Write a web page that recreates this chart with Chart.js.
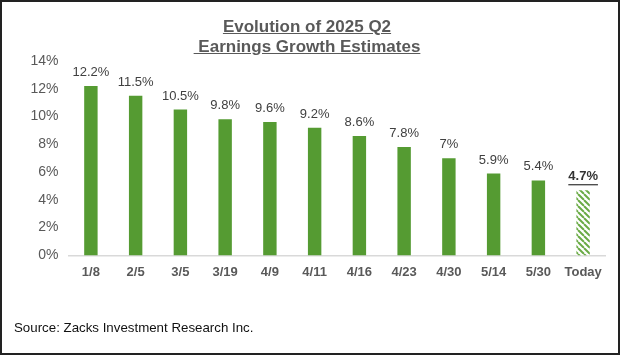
<!DOCTYPE html>
<html><head><meta charset="utf-8">
<script src="https://cdn.jsdelivr.net/npm/chart.js@4/dist/chart.umd.min.js"></script>
<style>
html,body{margin:0;padding:0;background:#fff;}
#wrap{position:relative;width:620px;height:355px;box-sizing:border-box;border:2px solid #222;font-family:"Liberation Sans",Arial,sans-serif;overflow:hidden;}
#title{position:absolute;left:0;top:15px;width:610px;text-align:center;font-weight:bold;font-size:17px;line-height:20px;color:#595959;text-decoration:underline;}
#src{position:absolute;left:12px;top:318px;font-size:13.3px;color:#111;}
canvas{position:absolute;left:0;top:0;}
</style></head>
<body><div id="wrap">
<canvas id="c" width="616" height="351"></canvas>
<div id="title">Evolution of 2025 Q2<br>&nbsp;Earnings Growth Estimates</div>
<div id="src">Source: Zacks Investment Research Inc.</div>
</div>
<script>
const categories = ["1/8","2/5","3/5","3/19","4/9","4/11","4/16","4/23","4/30","5/14","5/30","Today"];
const values = [12.2,11.5,10.5,9.8,9.6,9.2,8.6,7.8,7.0,5.9,5.4,4.7];
const valueLabels = ["12.2%","11.5%","10.5%","9.8%","9.6%","9.2%","8.6%","7.8%","7%","5.9%","5.4%","4.7%"];
const yTicks = [0,2,4,6,8,10,12,14];

const GREEN = "#559b32";
function hatch(){
  const p = document.createElement("canvas");
  p.width = 6; p.height = 6;
  const x = p.getContext("2d");
  x.fillStyle = "#fff"; x.fillRect(0,0,6,6);
  x.strokeStyle = "#6aab45"; x.lineWidth = 2;
  for (let k=-6;k<=12;k+=6){ x.beginPath(); x.moveTo(k,0); x.lineTo(k+6,6); x.stroke(); }
  return document.getElementById("c").getContext("2d").createPattern(p,"repeat");
}
const colors = values.map((v,i)=> i===values.length-1 ? hatch() : GREEN);

const labelPlugin = {
  id:"vals",
  afterDatasetsDraw(chart){
    const ctx = chart.ctx;
    const meta = chart.getDatasetMeta(0);
    ctx.save();
    ctx.textAlign = "center"; ctx.textBaseline = "bottom";
    meta.data.forEach((bar,i)=>{
      const last = i===values.length-1;
      ctx.font = (last?"bold ":"") + "13px 'Liberation Sans', Arial, sans-serif";
      ctx.fillStyle = last ? "#333" : "#404040";
      const y = bar.y - 7;
      ctx.fillText(valueLabels[i], bar.x, y);
      if (last){
        const w = ctx.measureText(valueLabels[i]).width;
        ctx.fillRect(bar.x - w/2, y+1, w, 1.2);
      }
    });
    ctx.restore();
  }
};

new Chart(document.getElementById("c"),{
  type:"bar",
  data:{labels:categories,datasets:[{data:values,backgroundColor:colors,barPercentage:0.6,categoryPercentage:0.5}]},
  options:{
    responsive:false,animation:false,
    layout:{padding:{top:59,right:12.5,left:18.5,bottom:64}},
    plugins:{legend:{display:false},tooltip:{enabled:false}},
    scales:{
      x:{grid:{display:false,drawTicks:false},border:{color:"#d9d9d9",width:1.5},
         ticks:{color:"#595959",padding:9,font:{family:"'Liberation Sans', Arial",size:13,weight:"bold"}}},
      y:{min:0,max:14,grid:{display:false,drawTicks:false},border:{display:false},
         afterBuildTicks(s){s.ticks=yTicks.map(v=>({value:v}));},
         ticks:{color:"#595959",padding:10,font:{family:"'Liberation Sans', Arial",size:14},callback:v=>v+"%"}}
    }
  },
  plugins:[labelPlugin]
});
</script></body></html>
